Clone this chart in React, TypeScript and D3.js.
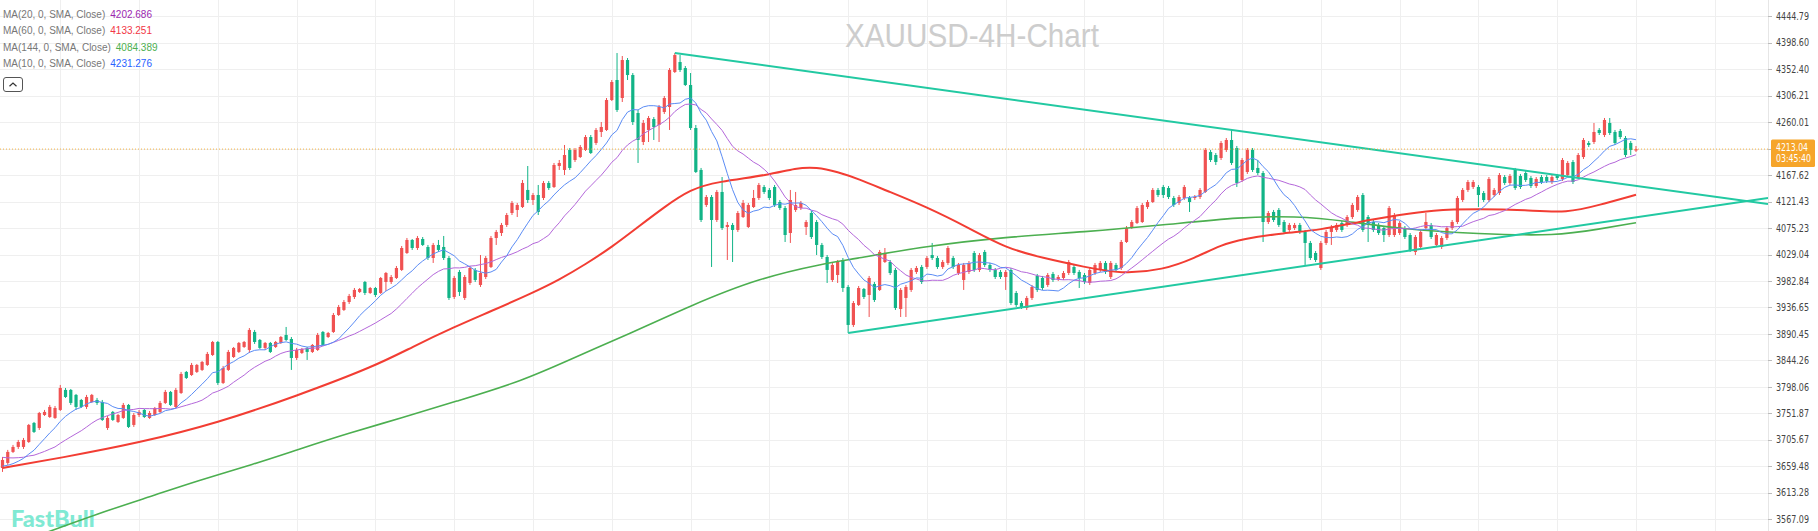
import React, { useEffect } from "react";
import * as d3 from "d3";

// ---------- data ----------
// 4H candles: [open, high, low, close]
const candles: [number, number, number, number][] = [
  [3656.5,3675.7,3649.6,3670.5],[3665.3,3688,3661.8,3684.5],[3684.5,3696.7,3682.7,3693.2],[3693.2,3705.4,3689.7,3701.9],
  [3693.2,3708.9,3689.7,3705.4],[3701.9,3733.3,3700.2,3731.6],[3735.1,3736.8,3717.6,3719.4],[3726.3,3754.3,3722.9,3752.5],
  [3749,3757.8,3747.3,3754.3],[3745.5,3766.5,3743.8,3763],[3743.8,3764.7,3742.1,3761.2],[3757.8,3801.4,3756,3796.1],
  [3792.7,3796.1,3778.7,3780.4],[3792.7,3794.4,3766.5,3770],[3784,3785.7,3757.8,3763],[3775.2,3777,3761.2,3763],
  [3763,3784,3759.5,3780.4],[3771.7,3785.7,3770,3784],[3775.2,3778.7,3766.5,3770],[3771.7,3775.2,3738.6,3740.3],
  [3726.3,3747.3,3722.9,3743.8],[3754.3,3756,3738.6,3740.3],[3736.8,3750.8,3735.1,3749],[3743.8,3770,3742.1,3766.5],
  [3766.5,3768.2,3726.3,3728.1],[3731.6,3752.5,3728.1,3749],[3749,3757.8,3745.5,3754.3],[3757.8,3759.5,3743.8,3745.5],
  [3743.8,3756,3742.1,3752.5],[3749,3763,3747.3,3761.2],[3754.3,3773.5,3752.5,3770],[3770,3792.7,3768.2,3789.2],
  [3789.2,3790.9,3764.7,3766.5],[3763,3796.1,3761.2,3792.7],[3787.4,3824.1,3785.7,3820.6],[3824.1,3825.8,3811.8,3813.6],
  [3818.8,3839.8,3817.1,3836.3],[3824.1,3838,3822.3,3836.3],[3827.6,3843.3,3825.8,3841.5],[3836.3,3859,3834.6,3855.5],
  [3853.7,3878.2,3852,3876.4],[3876.4,3878.2,3801.4,3804.9],[3804.9,3834.6,3803.1,3831],[3827.6,3862.5,3825.8,3859],
  [3850.2,3867.7,3848.5,3866],[3859,3876.4,3857.2,3874.7],[3867.7,3878.2,3866,3876.4],[3862.5,3900.8,3857.2,3897.4],
  [3893.9,3897.4,3872.9,3876.4],[3879.9,3881.6,3864.2,3866],[3866,3876.4,3862.5,3874.7],[3874.7,3876.4,3857.2,3859],
  [3867.7,3878.2,3866,3876.4],[3874.7,3886.9,3872.9,3885.1],[3888.6,3902.6,3878.2,3879.9],[3881.6,3885.1,3827.6,3848.5],
  [3848.5,3866,3845,3862.5],[3857.2,3866,3855.5,3864.2],[3866,3867.7,3845,3859],[3859,3872.9,3857.2,3871.2],
  [3862.5,3892.1,3860.7,3888.6],[3893.9,3895.6,3869.4,3871.2],[3885.1,3893.9,3883.4,3892.1],[3893.9,3927,3892.1,3923.5],
  [3923.5,3941,3921.8,3937.5],[3932.3,3949.7,3930.5,3946.2],[3946.2,3960.2,3942.7,3956.7],[3954.9,3970.6,3951.4,3967.2],
  [3963.7,3970.6,3961.9,3968.9],[3981.1,3982.9,3958.4,3961.9],[3961.9,3972.4,3960.2,3970.6],[3970.6,3972.4,3954.9,3958.4],
  [3961.9,3989.8,3960.2,3988.1],[3981.1,3998.6,3965.4,3996.8],[3981.1,3993.3,3977.6,3989.8],[3988.1,4009,3986.3,4005.5],
  [4002.1,4043.9,4000.3,4040.4],[4031.7,4057.9,4030,4054.4],[4054.4,4056.1,4037,4040.4],[4040.4,4061.4,4037,4057.9],
  [4056.1,4059.6,4043.9,4045.7],[4042.2,4045.7,4019.5,4023],[4023,4049.2,4014.3,4045.7],[4045.7,4054.4,4033.5,4037],
  [4042.2,4061.4,4019.5,4023],[4023,4026.5,3949.7,3953.2],[3954.9,3991.6,3951.4,3988.1],[3998.6,4002.1,3956.7,3963.7],
  [3953.2,3993.3,3949.7,3989.8],[3979.4,4009,3975.9,4005.5],[4002.1,4005.5,3981.1,3984.6],[3975.9,4028.2,3972.4,3996.8],
  [3989.8,4026.5,3986.3,4023],[4007.3,4061.4,4005.5,4057.9],[4057.9,4071.9,4045.7,4068.4],[4066.6,4084.1,4061.4,4080.6],
  [4080.6,4101.5,4077.1,4098],[4101.5,4122.5,4098,4119],[4106.8,4119,4094.5,4115.5],[4112,4159.1,4110.2,4153.9],
  [4141.7,4183.5,4119,4124.2],[4124.2,4136.4,4115.5,4132.9],[4132.9,4150.4,4098,4103.3],[4127.7,4157.4,4124.2,4153.9],
  [4153.9,4157.4,4141.7,4145.1],[4146.9,4188.8,4145.1,4185.3],[4183.5,4194,4176.6,4188.8],[4176.6,4220.2,4167.8,4202.7],
  [4211.5,4214.9,4176.6,4180.1],[4194,4214.9,4190.5,4211.5],[4199.2,4220.2,4197.5,4216.7],[4211.5,4237.6,4209.7,4234.1],
  [4234.1,4237.6,4204.5,4206.2],[4223.7,4249.8,4220.2,4246.4],[4242.9,4260.3,4234.1,4251.6],[4246.4,4302.2,4244.6,4298.7],
  [4298.7,4333.6,4296.9,4330.1],[4333.6,4380.7,4277.8,4281.3],[4302.2,4375.5,4295.2,4368.5],[4368.5,4372,4333.6,4342.3],
  [4342.3,4345.8,4255.1,4260.3],[4276,4281.3,4188.8,4228.9],[4225.4,4263.8,4220.2,4258.6],[4246.4,4270.8,4225.4,4267.3],
  [4265.5,4269,4228.9,4251.6],[4255.1,4290,4225.4,4286.5],[4277.8,4305.7,4274.3,4302.2],[4286.5,4354.5,4246.4,4351.1],
  [4347.6,4380.7,4345.8,4377.2],[4365,4377.2,4347.6,4351.1],[4354.5,4358,4323.1,4324.9],[4324.9,4345.8,4246.4,4249.8],
  [4249.8,4255.1,4171.3,4173.1],[4176.6,4180.1,4085.8,4089.3],[4115.5,4132.9,4112,4129.4],[4129.4,4132.9,4007.3,4089.3],
  [4089.3,4141.7,4085.8,4138.2],[4138.2,4164.3,4071.9,4075.3],[4077.1,4085.8,4019.5,4080.6],[4080.6,4084.1,4016,4071.9],
  [4071.9,4105,4068.4,4101.5],[4094.5,4124.2,4092.8,4119],[4077.1,4119,4075.3,4115.5],[4112,4141.7,4110.2,4127.7],
  [4127.7,4153.9,4124.2,4150.4],[4146.9,4150.4,4134.7,4138.2],[4141.7,4145.1,4124.2,4127.7],[4146.9,4150.4,4112,4115.5],
  [4120.7,4124.2,4106.8,4110.2],[4110.2,4113.7,4050.9,4063.1],[4066.6,4141.7,4049.2,4124.2],[4106.8,4138.2,4103.3,4115.5],
  [4110.2,4122.5,4106.8,4119],[4077.1,4089.3,4063.1,4085.8],[4101.5,4105,4056.1,4059.6],[4085.8,4089.3,4028.2,4045.7],
  [4045.7,4049.2,4021.2,4024.7],[4024.7,4028.2,3979.4,4002.1],[3984.6,4014.3,3981.1,4010.8],[3993.3,4019.5,3979.4,4016],
  [4019.5,4023,3963.7,3970.6],[3972.4,3975.9,3892.1,3906.1],[3906.1,3947.9,3902.6,3944.4],[3941,3974.1,3939.2,3970.6],
  [3968.9,3970.6,3951.4,3954.9],[3958.4,3991.6,3920,3988.1],[3977.6,3981.1,3946.2,3949.7],[3967.2,4037,3965.4,4033.5],
  [4016,4040.4,4014.3,4031.7],[4016,4019.5,3993.3,3996.8],[4002.1,4005.5,3932.3,3935.7],[3934,3970.6,3920,3967.2],
  [3953.2,3975.9,3920,3972.4],[3967.2,4005.5,3963.7,4002.1],[3998.6,4009,3995.1,4005.5],[4007.3,4010.8,3977.6,3981.1],
  [4007.3,4026.5,4003.8,4023],[4028.2,4049.2,4019.5,4023],[4023,4026.5,4003.8,4007.3],[4007.3,4019.5,4003.8,4016],
  [4014.3,4043.9,4010.8,4040.4],[4023,4026.5,4003.8,4007.3],[3996.8,4014.3,3993.3,4010.8],[3984.6,4014.3,3967.2,4010.8],
  [3998.6,4017.7,3995.1,4014.3],[4031.7,4035.2,3998.6,4002.1],[4002.1,4031.7,3998.6,4028.2],[4033.5,4037,4007.3,4010.8],
  [4010.8,4014.3,3998.6,4002.1],[4002.1,4005.5,3986.3,3989.8],[3998.6,4002.1,3986.3,3989.8],[3989.8,4002.1,3967.2,3998.6],
  [4002.1,4005.5,3941,3944.4],[3961.9,3965.4,3937.5,3941],[3944.4,3947.9,3934,3937.5],[3935.7,3956.7,3932.3,3953.2],
  [3953.2,3975.9,3949.7,3972.4],[3991.6,3995.1,3963.7,3967.2],[3988.1,3991.6,3967.2,3970.6],[3975.9,3996.8,3972.4,3993.3],
  [3995.1,3998.6,3981.1,3984.6],[3986.3,3993.3,3982.9,3989.8],[3988.1,4000.3,3984.6,3996.8],[3996.8,4019.5,3993.3,4016],
  [4007.3,4010.8,3993.3,3996.8],[3998.6,4002.1,3970.6,3988.1],[3993.3,3996.8,3977.6,3981.1],[3979.4,4005.5,3975.9,4002.1],
  [3996.8,4014.3,3993.3,4010.8],[4002.1,4017.7,3998.6,4014.3],[4014.3,4017.7,3995.1,3998.6],[3989.8,4017.7,3986.3,4014.3],
  [4010.8,4014.3,3998.6,4002.1],[4005.5,4054.4,4002.1,4050.9],[4050.9,4078.8,4049.2,4075.3],[4077.1,4089.3,4073.6,4085.8],
  [4084.1,4113.7,4082.3,4110.2],[4085.8,4119,4084.1,4115.5],[4112,4124.2,4108.5,4120.7],[4120.7,4145.1,4119,4141.7],
  [4141.7,4145.1,4129.4,4132.9],[4146.9,4150.4,4127.7,4132.9],[4145.1,4148.6,4125.9,4129.4],[4127.7,4131.2,4112,4115.5],
  [4119,4132.9,4115.5,4129.4],[4127.7,4150.4,4124.2,4146.9],[4127.7,4131.2,4103.3,4120.7],[4127.7,4132.9,4124.2,4129.4],
  [4129.4,4145.1,4125.9,4141.7],[4138.2,4214.9,4136.4,4211.5],[4208,4211.5,4190.5,4194],[4202.7,4206.2,4185.3,4190.5],
  [4197.5,4227.2,4194,4223.7],[4211.5,4232.4,4208,4228.9],[4228.9,4246.4,4185.3,4188.8],[4214.9,4218.5,4146.9,4153.9],
  [4159.1,4197.5,4155.6,4194],[4173.1,4214.9,4169.6,4211.5],[4211.5,4214.9,4173.1,4176.6],[4180.1,4194,4167.8,4171.3],
  [4171.3,4174.8,4050.9,4085.8],[4085.8,4105,4082.3,4101.5],[4103.3,4106.8,4085.8,4089.3],[4106.8,4110.2,4077.1,4080.6],
  [4085.8,4089.3,4064.9,4068.4],[4071.9,4084.1,4068.4,4080.6],[4075.3,4084.1,4071.9,4080.6],[4080.6,4084.1,4064.9,4068.4],
  [4068.4,4071.9,4010.8,4049.2],[4049.2,4052.7,4019.5,4023],[4031.7,4035.2,4016,4019.5],[4005.5,4052.7,4002.1,4049.2],
  [4049.2,4071.9,4045.7,4068.4],[4068.4,4080.6,4045.7,4077.1],[4071.9,4084.1,4068.4,4080.6],[4084.1,4087.5,4068.4,4071.9],
  [4080.6,4098,4077.1,4094.5],[4094.5,4119,4091,4115.5],[4106.8,4132.9,4103.3,4129.4],[4132.9,4136.4,4068.4,4071.9],
  [4094.5,4098,4050.9,4080.6],[4085.8,4089.3,4068.4,4071.9],[4080.6,4084.1,4063.1,4066.6],[4075.3,4078.8,4050.9,4063.1],
  [4063.1,4113.7,4059.6,4110.2],[4063.1,4101.5,4059.6,4098],[4066.6,4087.5,4063.1,4084.1],[4075.3,4078.8,4056.1,4059.6],
  [4063.1,4066.6,4033.5,4037],[4033.5,4063.1,4028.2,4059.6],[4042.2,4071.9,4038.7,4068.4],[4075.3,4101.5,4071.9,4085.8],
  [4080.6,4084.1,4056.1,4059.6],[4045.7,4066.6,4042.2,4063.1],[4042.2,4061.4,4038.7,4057.9],[4057.9,4078.8,4054.4,4075.3],
  [4075.3,4089.3,4071.9,4085.8],[4085.8,4131.2,4082.3,4127.7],[4124.2,4145.1,4120.7,4141.7],[4141.7,4159.1,4138.2,4155.6],
  [4146.9,4159.1,4143.4,4155.6],[4146.9,4150.4,4112,4132.9],[4136.4,4139.9,4120.7,4124.2],[4124.2,4164.3,4120.7,4160.9],
  [4132.9,4145.1,4129.4,4141.7],[4136.4,4171.3,4132.9,4167.8],[4164.3,4167.8,4150.4,4153.9],[4153.9,4169.6,4150.4,4166.1],
  [4176.6,4180.1,4141.7,4145.1],[4166.1,4169.6,4143.4,4146.9],[4171.3,4174.8,4155.6,4159.1],[4162.6,4166.1,4145.1,4148.6],
  [4148.6,4164.3,4145.1,4160.9],[4164.3,4167.8,4152.1,4155.6],[4164.3,4167.8,4153.9,4157.4],[4155.6,4167.8,4152.1,4164.3],
  [4166.1,4169.6,4159.1,4162.6],[4160.9,4197.5,4157.4,4194],[4167.8,4192.3,4164.3,4188.8],[4190.5,4194,4152.1,4155.6],
  [4164.3,4206.2,4160.9,4202.7],[4199.2,4232.4,4195.7,4228.9],[4223.7,4227.2,4216.7,4220.2],[4225.4,4258.6,4221.9,4242.9],
  [4246.4,4249.8,4237.6,4241.1],[4237.6,4267.3,4234.1,4263.8],[4258.6,4267.3,4237.6,4241.1],[4242.9,4246.4,4220.2,4223.7],
  [4244.6,4248.1,4230.6,4234.1],[4232.4,4235.9,4199.2,4202.7],[4223.7,4227.2,4202.7,4211.5],[4210.5,4218.4,4208,4213.04],
];

// closes before the visible window (estimated from where MA10/MA20 start)
const priorCloses = [3700, 3697, 3694, 3690, 3688, 3692, 3689, 3686, 3684, 3683,
  3670, 3665, 3660, 3655, 3657, 3652, 3650, 3656, 3662];

// MA(60) and MA(144): [candle index, value]
const ma60Points: [number, number][] = [
  [0, 3656.5], [11, 3674.0], [26, 3700.2], [41, 3735.1], [56, 3782.2], [71, 3834.6], [78, 3867.7],
  [86, 3902.6], [93, 3930.0], [101, 3962.5], [106, 3985.0], [111, 4012.0], [116, 4042.0], [121, 4077.1],
  [126, 4112.0], [131, 4143.0], [136, 4156.0], [146, 4167.8], [151, 4180.1], [155, 4181.8], [159, 4173.1],
  [163, 4160.8], [168, 4141.7], [176, 4112.0], [184, 4075.3], [191, 4040.4], [198, 4023.0], [206, 4007.3],
  [213, 3995.1], [221, 4002.1], [227, 4023.0], [232, 4045.7], [236, 4056.1], [244, 4066.6], [251, 4071.9],
  [258, 4085.8], [266, 4098.0], [272, 4106.8], [281, 4108.5], [290, 4106.8], [298, 4101.5], [304, 4115.5],
  [311, 4133.251],
];
const ma144Points: [number, number][] = [
  [5, 3532.6], [19, 3579.7], [28, 3606.0], [37, 3633.8], [48, 3663.5], [56, 3687.9], [66, 3717.6],
  [76, 3743.8], [86, 3772.0], [99, 3808.0], [110, 3854.0], [118, 3885.0], [131, 3940.0], [144, 3988.1],
  [157, 4014.3], [161, 4019.5], [176, 4043.9], [191, 4059.6], [206, 4068.4], [221, 4080.6], [236, 4094.5],
  [246, 4096.3], [256, 4087.5], [266, 4073.6], [281, 4064.9], [296, 4061.4], [304, 4073.6], [311, 4084.389],
];

// trendlines: two touch points each [candle index, price]
const upperTrend: [number, number][] = [[128, 4380.7], [234, 4246.4]];
const lowerTrend: [number, number][] = [[161, 3892.1], [251, 4013.2]];

const yTicks = [4444.79, 4398.60, 4352.40, 4306.21, 4260.01, 4213.82, 4167.62, 4121.43, 4075.23, 4029.04,
  3982.84, 3936.65, 3890.45, 3844.26, 3798.06, 3751.87, 3705.67, 3659.48, 3613.28, 3567.09];
const hiddenTick = 4213.82;
const lastPrice = 4213.04;
const countdown = "03:45:40";
const gridEvery = 15;
const firstGridCandle = 11;

const legend = [
  { label: "MA(20, 0, SMA, Close)", value: "4202.686", color: "#9c27b0" },
  { label: "MA(60, 0, SMA, Close)", value: "4133.251", color: "#f23645" },
  { label: "MA(144, 0, SMA, Close)", value: "4084.389", color: "#4caf50" },
  { label: "MA(10, 0, SMA, Close)", value: "4231.276", color: "#2962ff" },
];

// ---------- chart ----------
const W = 1818;
const H = 531;
const PLOT_RIGHT = 1768;
const UP = "#f05252";
const DOWN = "#12b487";
const TREND = "#22c9a2";
const AXIS_FONT = "'Liberation Sans Narrow', 'DejaVu Sans Condensed', Roboto, sans-serif";
const UI_FONT = "'Liberation Sans', Arial, sans-serif";

export default function App() {
  useEffect(() => {
    document.body.style.margin = "0";
  }, []);

  const x = d3.scaleLinear().domain([0, candles.length - 1]).range([2.5, 1636]);
  const y = d3.scaleLinear().domain([3567.09, 4444.79]).range([519.2, 16.3]);

  const allCloses = [...priorCloses, ...candles.map((c) => c[3])];
  const sma = (n: number): [number, number][] =>
    candles.map((_, i) => {
      const end = i + priorCloses.length;
      return [i, d3.mean(allCloses.slice(end - n + 1, end + 1)) as number];
    });
  const ma10 = sma(10);
  const ma20 = sma(20);

  const lineLin = d3.line<[number, number]>().x((d) => x(d[0])).y((d) => y(d[1]));
  const lineSmooth = d3
    .line<[number, number]>()
    .x((d) => x(d[0]))
    .y((d) => y(d[1]))
    .curve(d3.curveBasis);

  const iEnd = x.invert(PLOT_RIGHT);
  const extend = (pts: [number, number][]): [number, number][] => {
    const [[i1, p1], [i2, p2]] = pts;
    const f = (i: number) => p1 + ((p2 - p1) * (i - i1)) / (i2 - i1);
    return [
      [i1, p1],
      [iEnd, f(iEnd)],
    ];
  };

  const gridIdx = d3.range(firstGridCandle, iEnd, gridEvery);
  const bodyW = 3.2;

  return (
    <svg
      width={W}
      height={H}
      viewBox={`0 0 ${W} ${H}`}
      style={{ display: "block", position: "absolute", left: 0, top: 0, background: "#fff" }}
    >
      <defs>
        <clipPath id="plot">
          <rect x={0} y={0} width={PLOT_RIGHT} height={H} />
        </clipPath>
      </defs>
      <rect x={0} y={0} width={W} height={H} fill="#ffffff" />

      {/* grid */}
      <g stroke="#efefef" strokeWidth={1}>
        {yTicks.map((t) => (
          <line key={"h" + t} x1={0} x2={PLOT_RIGHT} y1={Math.round(y(t)) + 0.5} y2={Math.round(y(t)) + 0.5} />
        ))}
        {gridIdx.map((i) => (
          <line key={"v" + i} x1={Math.round(x(i)) + 0.5} x2={Math.round(x(i)) + 0.5} y1={0} y2={H} />
        ))}
      </g>

      {/* watermarks */}
      <text
        x={845}
        y={47}
        fontFamily={UI_FONT}
        fontSize={33}
        fill="#cdcdcd"
        textLength={254}
        lengthAdjust="spacingAndGlyphs"
      >
        XAUUSD-4H-Chart
      </text>
      <text x={11} y={527} fontFamily="Lato, 'Open Sans', sans-serif" fontWeight={900} fontSize={23.5} fill="#80e9d3">
        FastBull
      </text>

      <g clipPath="url(#plot)">
        {/* candles */}
        {candles.map(([o, h, l, c], i) => {
          const up = c >= o;
          const col = up ? UP : DOWN;
          const cx = x(i);
          const top = y(Math.max(o, c));
          const bot = y(Math.min(o, c));
          return (
            <g key={i}>
              <line x1={cx} x2={cx} y1={y(h)} y2={y(l)} stroke={col} strokeWidth={1} />
              <rect x={cx - bodyW / 2} y={top} width={bodyW} height={Math.max(1, bot - top)} fill={col} />
            </g>
          );
        })}

        {/* moving averages */}
        <path d={lineSmooth(ma144Points) || ""} fill="none" stroke="#4caf50" strokeWidth={1.6} />
        <path d={lineSmooth(ma60Points) || ""} fill="none" stroke="#f23d33" strokeWidth={2} />
        <path d={lineLin(ma20) || ""} fill="none" stroke="#b467da" strokeWidth={1} />
        <path d={lineLin(ma10) || ""} fill="none" stroke="#5b8cf5" strokeWidth={1} />

        {/* trendlines */}
        <path d={lineLin(extend(upperTrend)) || ""} fill="none" stroke={TREND} strokeWidth={2} />
        <path d={lineLin(extend(lowerTrend)) || ""} fill="none" stroke={TREND} strokeWidth={2} />

        {/* last price line */}
        <line
          x1={0}
          x2={PLOT_RIGHT}
          y1={y(lastPrice)}
          y2={y(lastPrice)}
          stroke="#f5a623"
          strokeOpacity={0.85}
          strokeWidth={1}
          strokeDasharray="1 2"
        />
      </g>

      {/* legend */}
      {legend.map((d, k) => (
        <text key={d.label} x={3} y={18 + k * 16.3} fontFamily={UI_FONT} fontSize={10}>
          <tspan fill="#777">{d.label}</tspan>
          <tspan dx={5} fill={d.color}>
            {d.value}
          </tspan>
        </text>
      ))}
      <rect x={3.5} y={77.5} width={19} height={14} rx={2.5} fill="#fff" stroke="#555" strokeWidth={1} />
      <path d="M9.5 86.3 L13 83 L16.5 86.3" fill="none" stroke="#333" strokeWidth={1.2} />

      {/* right price axis */}
      <line x1={PLOT_RIGHT + 0.5} x2={PLOT_RIGHT + 0.5} y1={0} y2={H} stroke="#e6e6e6" />
      {yTicks.map((t) => (
        <g key={"t" + t}>
          <line x1={PLOT_RIGHT} x2={PLOT_RIGHT + 4} y1={Math.round(y(t)) + 0.5} y2={Math.round(y(t)) + 0.5} stroke="#bbb" />
          {t !== hiddenTick && (
            <text
              x={1776}
              y={y(t)}
              dy="0.35em"
              fontFamily={AXIS_FONT}
              fontSize={10.5}
              fill="#444"
              textLength={33}
              lengthAdjust="spacingAndGlyphs"
            >
              {t.toFixed(2)}
            </text>
          )}
        </g>
      ))}
      <rect x={1771} y={139.5} width={44} height={27.5} rx={1.5} fill="#f6a52a" />
      <text x={1776} y={150.5} fontFamily={AXIS_FONT} fontSize={10.5} fill="#fff" textLength={32} lengthAdjust="spacingAndGlyphs">
        {lastPrice.toFixed(2)}
      </text>
      <text x={1776} y={162} fontFamily={AXIS_FONT} fontSize={10.5} fill="#fff" textLength={35} lengthAdjust="spacingAndGlyphs">
        {countdown}
      </text>
    </svg>
  );
}
